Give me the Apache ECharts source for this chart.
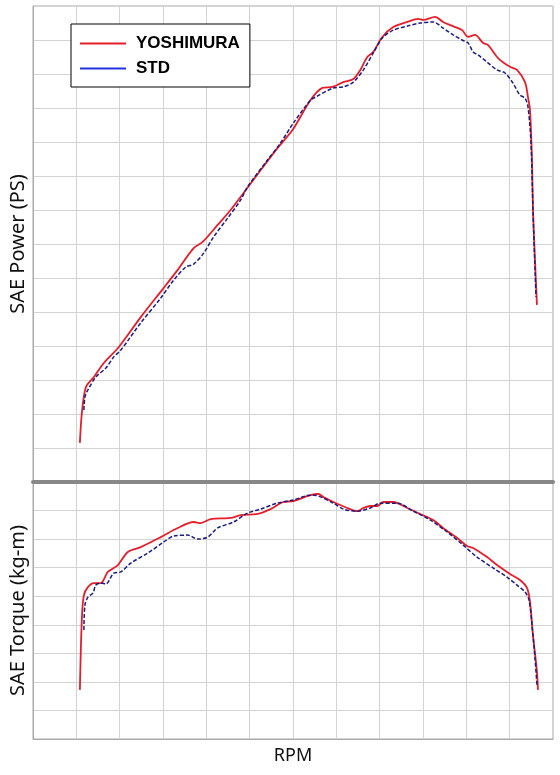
<!DOCTYPE html>
<html>
<head>
<meta charset="utf-8">
<script src="https://cdn.jsdelivr.net/npm/echarts@6/dist/echarts.min.js"></script>
<style>html,body{margin:0;padding:0;background:#fff}#c{width:560px;height:775px}</style>
</head>
<body>
<div id="c"></div>
<script>
// Series names and axis titles
const seriesNames = ['YOSHIMURA', 'STD'];
const powerTitle = 'SAE Power (PS)';
const torqueTitle = 'SAE Torque (kg-m)';
const rpmTitle = 'RPM';

// YOSHIMURA power (rpm, PS)
const yoshiPowerRpm = [1082,1128,1221,1405,1635,1981,2487,3017,3339,3708,3915,4261,4560,4859,5205,5642,5988,6402,6679,6909,7162,7392,7554,7715,7853,8061,8314,8636,8890,9005,9281,9465,9742,9903,10041,10202,10387,10502,10732,11008,11170,11354,11423,11469,11515,11538,11584,11630];
const yoshiPower    = [11.5,20.3,27.9,30.9,35.0,39.7,48.5,57.1,62.4,68.8,70.6,75.6,80.0,85.0,90.9,98.2,103.5,112.3,115.9,116.2,117.6,118.5,121.2,125.0,126.5,130.9,133.8,135.3,136.2,135.9,136.8,135.3,133.8,132.9,130.9,131.5,129.1,128.5,124.7,122.1,121.2,117.6,113.2,109.4,94.7,80.0,65.3,52.1];

// STD power (rpm, PS)
const stdPowerRpm = [1175,1198,1267,1451,1681,1865,2027,2487,2948,3247,3524,3708,3938,4168,4491,4790,4951,5412,5711,6011,6402,6518,6932,7162,7392,7623,7853,8061,8314,8636,8936,9235,9465,9696,9903,10041,10156,10271,10479,10709,10893,11077,11238,11354,11423,11492,11538,11607];
const stdPower    = [21.2,25.0,27.1,30.9,33.5,36.8,38.8,46.8,54.1,59.4,63.2,64.1,67.3,72.1,77.6,82.9,86.8,94.7,99.7,105.6,112.3,113.2,115.9,116.2,117.6,121.2,126.2,130.6,132.9,134.1,135.0,135.3,133.5,131.5,130.0,129.1,126.5,125.6,123.5,121.2,120.3,117.3,113.8,112.9,110.3,99.7,80.0,54.4];

// YOSHIMURA torque (rpm, kg-m)
const yoshiTorqueRpm = [1082,1128,1175,1267,1405,1566,1727,1958,2188,2487,2948,3339,3708,3869,4099,4560,4790,5182,5481,5780,6011,6402,6587,6702,6932,7255,7485,7623,7784,7945,8084,8314,8636,8936,9235,9465,9788,10018,10156,10479,10709,11008,11238,11400,11469,11538,11630,11653];
const yoshiTorque    = [1.72,4.24,5.04,5.32,5.46,5.46,5.85,6.09,6.55,6.72,7.07,7.39,7.60,7.56,7.70,7.74,7.84,7.88,8.05,8.30,8.33,8.54,8.58,8.47,8.30,8.09,7.98,8.09,8.16,8.16,8.30,8.30,8.09,7.88,7.67,7.39,7.04,6.76,6.69,6.37,6.09,5.78,5.57,5.29,4.80,3.64,2.35,1.72];

// STD torque (rpm, kg-m)
const stdTorqueRpm = [1175,1198,1267,1382,1451,1566,1681,1865,2027,2257,2648,3017,3247,3570,3800,4030,4261,4629,4951,5251,5642,6011,6402,6472,6932,7162,7485,7784,8015,8406,8775,9166,9557,9926,10248,10617,10939,11170,11354,11446,11515,11584,11630];
const stdTorque    = [3.82,4.69,4.97,5.11,5.39,5.46,5.43,5.81,5.85,6.16,6.51,6.90,7.11,7.14,7.00,7.07,7.39,7.60,7.91,8.05,8.26,8.37,8.54,8.54,8.26,8.05,7.98,8.09,8.26,8.26,7.98,7.67,7.25,6.79,6.37,5.99,5.67,5.39,5.15,4.87,3.99,2.84,1.89];

const zip = (xs, ys) => xs.map((x, i) => [x, ys[i]]);

const red = '#e41e2b';
const navy = '#1c1c80';
const legendBlue = '#2233dd';
const gridLine = '#d3d3d3';
const border = '#a9a9a9';
const font = 'Noto Sans';

const chart = echarts.init(document.getElementById('c'), null, {renderer: 'canvas'});

const xAxisBase = {
  type: 'value', min: 0, max: 12000, interval: 1000,
  axisLabel: {show: false}, axisTick: {show: false},
  splitLine: {show: true, lineStyle: {color: gridLine, width: 1}}
};

chart.setOption({
  animation: false,
  backgroundColor: '#fff',
  grid: [
    {left: 32, top: 6, width: 521, height: 476, show: true, borderColor: border, borderWidth: 1},
    {left: 32, top: 482, width: 521, height: 257, show: true, borderColor: border, borderWidth: 1}
  ],
  legend: {
    left: 71, top: 24, orient: 'vertical',
    data: [
      {name: seriesNames[0], itemStyle: {color: red}},
      {name: seriesNames[1], itemStyle: {color: legendBlue}}
    ],
    icon: 'rect', itemWidth: 46, itemHeight: 2, itemGap: 8,
    padding: [11, 10, 10, 9],
    backgroundColor: '#fff', borderColor: '#000', borderWidth: 1,
    textStyle: {fontFamily: 'Liberation Sans', fontWeight: 'bold', fontSize: 17, color: '#000', padding: [0, 0, 0, 5]}
  },
  xAxis: [
    Object.assign({}, xAxisBase, {gridIndex: 0,
      axisLine: {show: true, onZero: false, lineStyle: {color: '#878787', width: 4}}}),
    Object.assign({}, xAxisBase, {gridIndex: 1,
      axisLine: {show: true, onZero: false, lineStyle: {color: border, width: 1}},
      name: rpmTitle, nameLocation: 'middle', nameGap: 8,
      nameTextStyle: {fontFamily: font, fontSize: 18, color: '#111', verticalAlign: 'top'}})
  ],
  yAxis: [
    {type: 'value', gridIndex: 0, min: 0, max: 140, interval: 10,
      axisLabel: {show: false}, axisTick: {show: false},
      axisLine: {show: true, lineStyle: {color: border, width: 1}},
      splitLine: {show: true, lineStyle: {color: gridLine, width: 1}},
      name: powerTitle, nameLocation: 'middle', nameGap: 5,
      nameTextStyle: {fontFamily: font, fontSize: 20, color: '#111'}},
    {type: 'value', gridIndex: 1, min: 0, max: 9, interval: 1,
      axisLabel: {show: false}, axisTick: {show: false},
      axisLine: {show: true, lineStyle: {color: border, width: 1}},
      splitLine: {show: true, lineStyle: {color: gridLine, width: 1}},
      name: torqueTitle, nameLocation: 'middle', nameGap: 5,
      nameTextStyle: {fontFamily: font, fontSize: 20, color: '#111'}}
  ],
  series: [
    {name: seriesNames[0], type: 'line', xAxisIndex: 0, yAxisIndex: 0, data: zip(yoshiPowerRpm, yoshiPower),
      showSymbol: false, smooth: 0.3, lineStyle: {color: red, width: 1.8}, itemStyle: {color: red}, z: 3},
    {name: seriesNames[1], type: 'line', xAxisIndex: 0, yAxisIndex: 0, data: zip(stdPowerRpm, stdPower),
      showSymbol: false, smooth: 0.3, lineStyle: {color: navy, width: 1.5, type: [4, 2]}, itemStyle: {color: legendBlue}, z: 4},
    {name: seriesNames[0], type: 'line', xAxisIndex: 1, yAxisIndex: 1, data: zip(yoshiTorqueRpm, yoshiTorque),
      showSymbol: false, smooth: 0.3, lineStyle: {color: red, width: 1.8}, itemStyle: {color: red}, z: 3},
    {name: seriesNames[1], type: 'line', xAxisIndex: 1, yAxisIndex: 1, data: zip(stdTorqueRpm, stdTorque),
      showSymbol: false, smooth: 0.3, lineStyle: {color: navy, width: 1.5, type: [4, 2]}, itemStyle: {color: legendBlue}, z: 4}
  ]
});
</script>
</body>
</html>
